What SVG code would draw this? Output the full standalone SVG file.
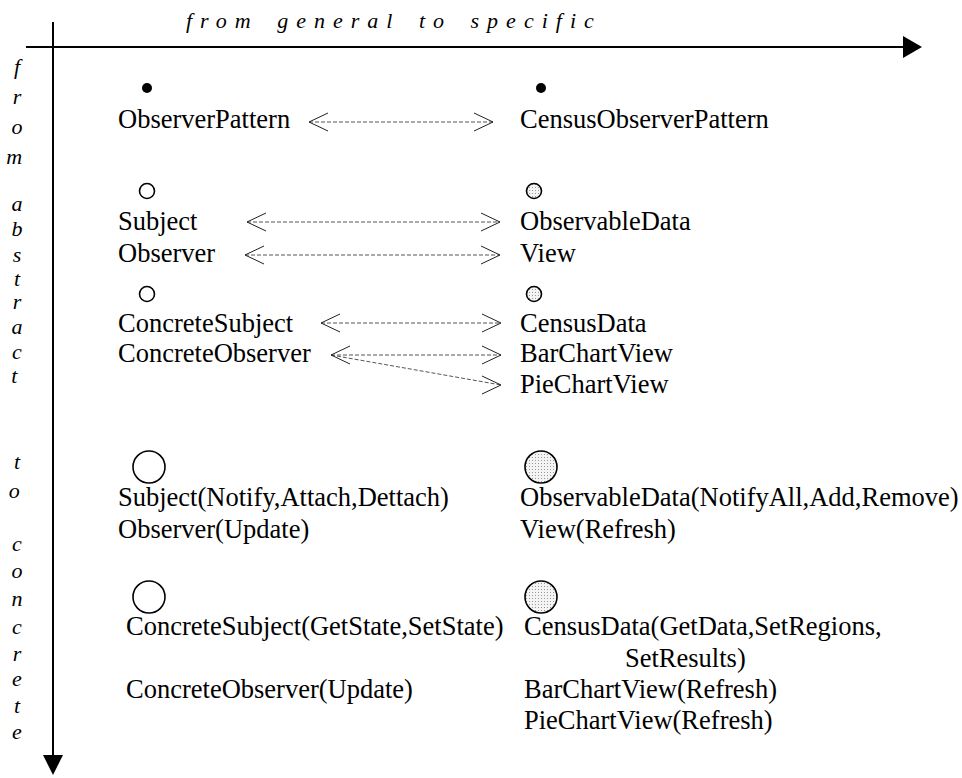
<svg xmlns="http://www.w3.org/2000/svg" width="962" height="778" viewBox="0 0 962 778">
<style>
.t{font-family:"Liberation Serif","Times New Roman",serif;font-size:26.5px;fill:#000}
.it{font-family:"Liberation Serif","Times New Roman",serif;font-size:22px;font-style:italic;fill:#000}
.axis{stroke:#000;stroke-width:2;fill:none}
.con{stroke:#555;stroke-width:1;stroke-dasharray:4,2;fill:none}
.ah{stroke:#222;stroke-width:1;fill:none}
.c{stroke:#000;stroke-width:1.6;fill:#fff}
.cd{stroke:#000;stroke-width:1.6;fill:url(#dots)}
</style>
<defs>
<pattern id="dots" width="3" height="3" patternUnits="userSpaceOnUse">
<rect width="3" height="3" fill="#f4f4f4"/>
<rect x="1" y="1" width="1" height="1" fill="#999"/>
</pattern>
</defs>
<rect width="962" height="778" fill="#fff"/>
<g id="axes">
<line class="axis" x1="26" y1="47" x2="905" y2="47"/>
<polygon points="903,36 922,47 903,58" fill="#000"/>
<line class="axis" x1="53" y1="22" x2="53" y2="757"/>
<polygon points="43,755 63,755 53,775" fill="#000"/>
<text class="it" x="186" y="28" font-size="23" letter-spacing="8" word-spacing="5">from general to specific</text>
<text class="it" text-anchor="middle">
<tspan x="17" y="74">f</tspan><tspan x="17" y="104">r</tspan><tspan x="17" y="134">o</tspan><tspan x="17" y="164">m</tspan>
<tspan x="17" y="211">a</tspan><tspan x="17" y="236">b</tspan><tspan x="17" y="262">s</tspan><tspan x="17" y="286">t</tspan><tspan x="17" y="309">r</tspan><tspan x="17" y="334">a</tspan><tspan x="17" y="359">c</tspan><tspan x="17" y="383">t</tspan>
<tspan x="17" y="469">t</tspan><tspan x="17" y="498">o</tspan>
<tspan x="17" y="551">c</tspan><tspan x="17" y="578">o</tspan><tspan x="17" y="606">n</tspan><tspan x="17" y="634">c</tspan><tspan x="17" y="661">r</tspan><tspan x="17" y="686">e</tspan><tspan x="17" y="713">t</tspan><tspan x="17" y="739">e</tspan>
</text>
</g>
<g id="observer-pattern">
<circle cx="147" cy="88" r="5" fill="#000"/>
<text class="t" x="118" y="128">ObserverPattern</text>
</g>
<g id="census-observer-pattern">
<circle cx="541" cy="88" r="5" fill="#000"/>
<text class="t" x="520" y="128">CensusObserverPattern</text>
</g>
<g id="general-roles">
<circle class="c" cx="147" cy="191" r="7.5"/>
<text class="t" x="118" y="230">Subject</text>
<text class="t" x="118" y="262">Observer</text>
</g>
<g id="specific-roles">
<circle class="cd" cx="534" cy="191" r="7.5"/>
<text class="t" x="520" y="230">ObservableData</text>
<text class="t" x="520" y="262">View</text>
</g>
<g id="general-concrete-roles">
<circle class="c" cx="147" cy="294" r="7.5"/>
<text class="t" x="118" y="332">ConcreteSubject</text>
<text class="t" x="118" y="362">ConcreteObserver</text>
</g>
<g id="specific-concrete-roles">
<circle class="cd" cx="534" cy="294" r="7.5"/>
<text class="t" x="520" y="332">CensusData</text>
<text class="t" x="520" y="362">BarChartView</text>
<text class="t" x="520" y="393">PieChartView</text>
</g>
<g id="general-classes">
<circle class="c" cx="149" cy="467" r="16"/>
<text class="t" x="118" y="506">Subject(Notify,Attach,Dettach)</text>
<text class="t" x="118" y="538">Observer(Update)</text>
</g>
<g id="specific-classes">
<circle class="cd" cx="541" cy="467" r="16"/>
<text class="t" x="520" y="506">ObservableData(NotifyAll,Add,Remove)</text>
<text class="t" x="520" y="538">View(Refresh)</text>
</g>
<g id="general-concrete-classes">
<circle class="c" cx="149" cy="597" r="16"/>
<text class="t" x="126" y="635">ConcreteSubject(GetState,SetState)</text>
<text class="t" x="126" y="698">ConcreteObserver(Update)</text>
</g>
<g id="specific-concrete-classes">
<circle class="cd" cx="541" cy="597" r="16"/>
<text class="t" x="524" y="635">CensusData(GetData,SetRegions,</text>
<text class="t" x="625" y="667">SetResults)</text>
<text class="t" x="524" y="698">BarChartView(Refresh)</text>
<text class="t" x="524" y="729">PieChartView(Refresh)</text>
</g>
<g id="connectors">
<line class="con" x1="309" y1="122" x2="493" y2="122"/>
<path class="ah" d="M328,113 L309,122 L328,131 M474,113 L493,122 L474,131"/>
<line class="con" x1="247" y1="222" x2="500" y2="222"/>
<path class="ah" d="M266,213 L247,222 L266,231 M481,213 L500,222 L481,231"/>
<line class="con" x1="245" y1="255" x2="500" y2="255"/>
<path class="ah" d="M264,246 L245,255 L264,264 M481,246 L500,255 L481,264"/>
<line class="con" x1="321" y1="323" x2="501" y2="323"/>
<path class="ah" d="M340,314 L321,323 L340,332 M482,314 L501,323 L482,332"/>
<line class="con" x1="331" y1="355" x2="501" y2="355"/>
<line class="con" x1="331" y1="355" x2="501" y2="385"/>
<path class="ah" d="M350,346 L331,355 L350,364 M482,346 L501,355 L482,364 M482,376 L501,385 L482,394"/>
</g>
</svg>
